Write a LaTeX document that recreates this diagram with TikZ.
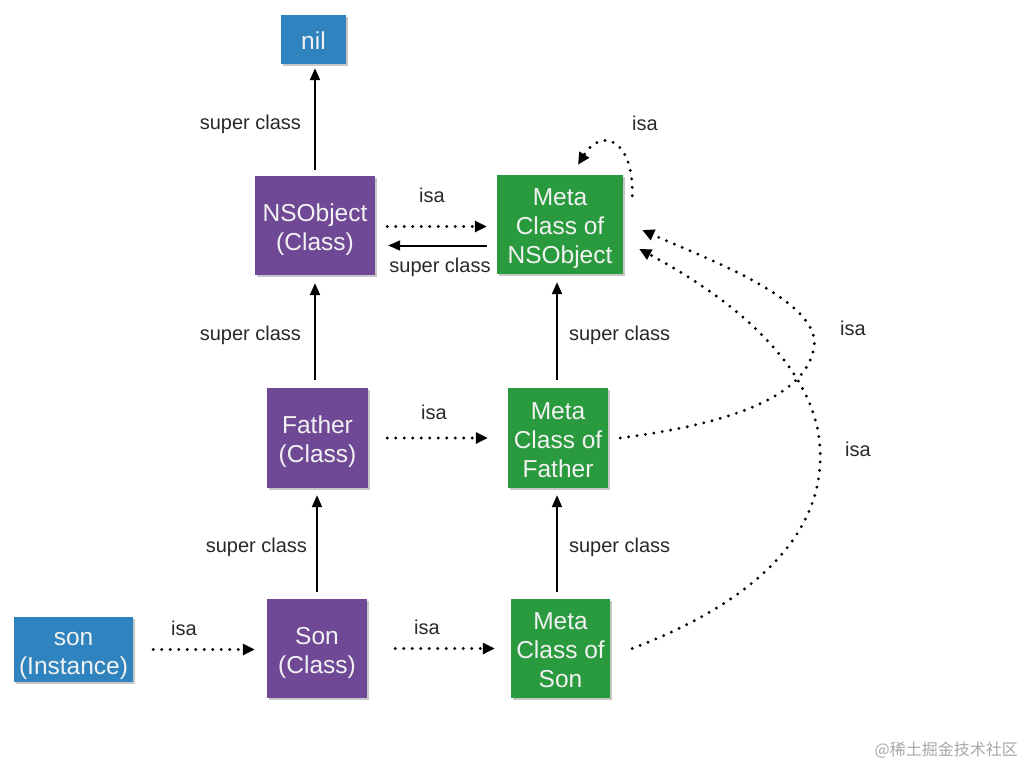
\documentclass[tikz,border=0pt]{standalone}
\usepackage{fontspec}
\setmainfont{Liberation Sans}
\newfontfamily\cjkfont{Noto Sans CJK SC}
\usetikzlibrary{arrows.meta,shadows}
\definecolor{boxblue}{RGB}{47,131,190}
\definecolor{boxpurple}{RGB}{111,73,149}
\definecolor{boxgreen}{RGB}{42,154,62}
\definecolor{boxtext}{RGB}{242,242,242}
\definecolor{labeltext}{RGB}{40,40,40}
\newcommand{\ts}{\rule{0pt}{26.6pt}}
\newcommand{\bs}{\rule[-6pt]{0pt}{6pt}}
\tikzset{
  box/.style={draw=none, text=boxtext, align=center, inner sep=0pt,
    font=\fontsize{24.5}{29}\selectfont,
    drop shadow={shadow xshift=2pt, shadow yshift=-2pt, opacity=0.22, fill=black}},
  bluebox/.style={box, fill=boxblue},
  purplebox/.style={box, fill=boxpurple},
  greenbox/.style={box, fill=boxgreen},
  lbl/.style={inner sep=0pt, text=labeltext, font=\fontsize{20}{23}\selectfont},
  sclbl/.style={lbl, yshift=-4pt},
  solidarr/.style={line width=2pt, -{Triangle[length=12pt,width=10pt]}, shorten >=7pt, shorten <=7pt},
  dotarr/.style={line width=3.2pt, dash pattern=on 0pt off 8.5pt, line cap=round,
    -{Triangle[length=12pt,width=11pt]}},
}
\begin{document}
\begin{tikzpicture}[x=1pt,y=-1pt]
\useasboundingbox (0,0) rectangle (1024,768);
% nodes
\node[bluebox, minimum width=65pt, minimum height=49pt] (nil) at (313.5,39.5) {\ts nil\bs};
\node[purplebox, minimum width=120pt, minimum height=99pt] (nso) at (315,225.5) {\ts NSObject\\(Class)\bs};
\node[greenbox, minimum width=126pt, minimum height=99pt] (mnso) at (560,224.5) {\ts Meta\\Class of\\NSObject\bs};
\node[purplebox, minimum width=101pt, minimum height=100pt] (fa) at (317.5,438) {\ts Father\\(Class)\bs};
\node[greenbox, minimum width=100pt, minimum height=100pt] (mf) at (558,438) {\ts Meta\\Class of\\Father\bs};
\node[bluebox, minimum width=119pt, minimum height=65pt] (inst) at (73.5,649.5) {\ts son\\(Instance)\bs};
\node[purplebox, minimum width=100pt, minimum height=99pt] (so) at (317,648.5) {\ts Son\\(Class)\bs};
\node[greenbox, minimum width=99pt, minimum height=99pt] (ms) at (560.5,648.5) {\ts Meta\\Class of\\Son\bs};
% super class (vertical)
\draw[solidarr, shorten <=6pt, shorten >=4pt] (nso.north) -- (nso.north |- nil.south)
  node[sclbl, midway, left=13pt] {super class};
\draw[solidarr, shorten <=8pt, shorten >=8pt] (nso.south |- fa.north) -- (nso.south)
  node[sclbl, midway, left=13pt] {super class};
\draw[solidarr] (so.north) -- (so.north |- fa.south)
  node[sclbl, midway, left=9pt] {super class};
\draw[solidarr, shorten <=8pt, shorten >=8pt] ([xshift=-1pt]mf.north) -- ([xshift=-1pt]mf.north |- mnso.south)
  node[sclbl, midway, right=11pt] {super class};
\draw[solidarr] ([xshift=-1pt]mf.north |- ms.north) -- ([xshift=-1pt]mf.south)
  node[sclbl, midway, right=11pt] {super class};
% super class (horizontal)
\draw[solidarr, shorten <=10pt, shorten >=13pt] ([yshift=-21pt]mnso.west) -- ([yshift=-21pt]mnso.west -| nso.east)
  node[lbl, midway, yshift=-22pt, xshift=4pt] {super class};
% isa (horizontal)
\draw[dotarr, shorten <=12pt, shorten >=10pt] ([yshift=-1pt]nso.east) -- ([yshift=-1pt]nso.east -| mnso.west)
  node[lbl, midway, yshift=31pt, xshift=-4pt] {isa};
\draw[dotarr, shorten <=19pt, shorten >=20pt] (fa.east) -- (fa.east -| mf.west)
  node[lbl, midway, yshift=26pt, xshift=-4pt] {isa};
\draw[dotarr, shorten <=20pt, shorten >=12pt] (inst.east) -- (inst.east -| so.west)
  node[lbl, midway, yshift=21pt, xshift=-16pt] {isa};
\draw[dotarr, shorten <=28pt, shorten >=16pt] (so.east) -- (so.east -| ms.west)
  node[lbl, midway, yshift=21pt, xshift=-12pt] {isa};
% isa curves
\draw[dotarr] ([xshift=9pt,yshift=-21pt]mnso.north east) .. controls (634,140) and (602,126) .. ([xshift=18pt,yshift=10pt]mnso.north);
\node[lbl] (isa1) at (645,123) {isa};
\draw[dotarr] ([xshift=12pt]mf.east) .. controls (720,425) and (806,400) .. (814,347)
  .. controls (822,300) and (700,256) .. ([xshift=19pt,yshift=-5.5pt]mnso.east);
\node[lbl] (isa2) at (853,328) {isa};
\draw[dotarr] ([xshift=22pt]ms.east) .. controls (760,600) and (825,530) .. (820,448)
  .. controls (815,360) and (720,292) .. ([xshift=16pt,yshift=-24.5pt]mnso.east);
\node[lbl] (isa3) at (858,449) {isa};
% watermark
\node[anchor=east, inner sep=0pt, text=black!35, font=\cjkfont\fontsize{16}{18}\selectfont] (wm) at (1018,750) {@稀土掘金技术社区};
\end{tikzpicture}
\end{document}
